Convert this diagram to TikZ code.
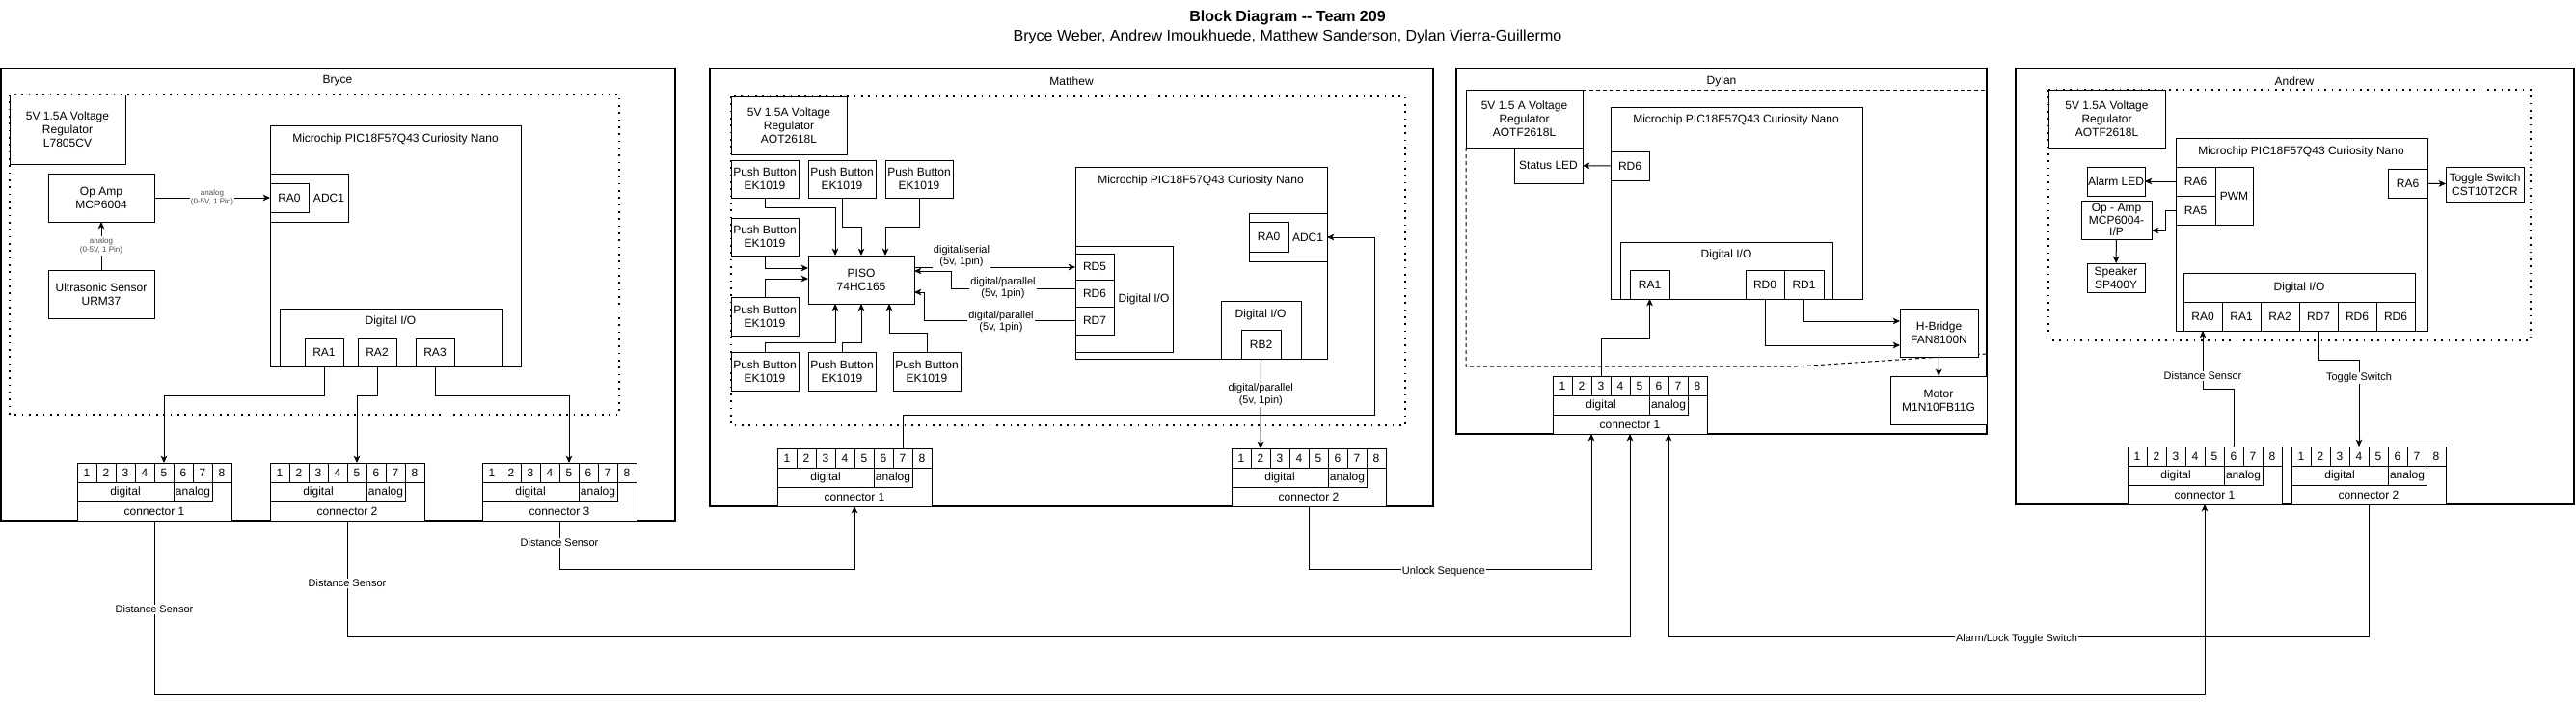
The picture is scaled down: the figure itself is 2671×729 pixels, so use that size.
\documentclass[tikz,border=0pt]{standalone}
\usepackage{fontspec}
\setmainfont{Liberation Sans}
\usetikzlibrary{arrows.meta}
\newcommand\ftw{\fontsize{9}{10.5}\selectfont}
\newcommand\fel{\fontsize{8.25}{9.2}\selectfont}
\newcommand\fsm{\fontsize{6}{7}\selectfont}
\newcommand\fti{\fontsize{12}{14}\selectfont}
\tikzset{
 box/.style={draw,line width=0.75pt,fill=white,inner sep=0pt,outer sep=0pt,align=center,font=\ftw},
 panel/.style={draw,line width=1pt},
 txt/.style={inner sep=0pt,align=center,font=\ftw},
 arr/.style={line width=0.75pt,-{Stealth[length=5.5pt,width=5pt,inset=1.5pt]}},
 elab/.style={fill=white,inner sep=1pt,align=center,font=\fel},
 slab/.style={fill=white,inner sep=1pt,align=center,font=\fsm,text=black!70},
 dotbox/.style={line width=1.3pt,dash pattern=on 1.3pt off 4.2pt},
 dashbox/.style={line width=0.75pt,dash pattern=on 3pt off 2.25pt},
}
\newcommand\mybox[7][]{%
 \pgfmathsetmacro\bw{(#5-#3)*0.75}%
 \pgfmathsetmacro\bh{(#6-#4)*0.75}%
 \node[box,minimum width=\bw pt,minimum height=\bh pt,#1] (#2) at ({(#3+#5)/2},{(#4+#6)/2}) {#7};}
\newcommand\myconn[4]{%
 \node[box,minimum width=120pt,minimum height=45pt,anchor=north west] (#1) at (#2,#3) {};
 \foreach \i in {1,...,8} {\node[box,minimum width=15pt,minimum height=15pt,anchor=north west] (#1-\i) at ({#2+20*(\i-1)},#3) {\i};}
 \node[box,minimum width=75pt,minimum height=15pt,anchor=north west] (#1-d) at (#2,{#3+20}) {digital};
 \node[box,minimum width=30pt,minimum height=15pt,anchor=north west] (#1-a) at ({#2+100},{#3+20}) {analog};
 \node[txt] (#1-l) at ({#2+80},{#3+50}) {#4};}
\begin{document}
\begin{tikzpicture}[x=0.75pt,y=-0.75pt]
\useasboundingbox (0,0) rectangle (2671,729);
\fill[white] (0,0) rectangle (2671,729);
% titles
\node[font=\bfseries\fti] (title) at (1335,18) {Block Diagram {-}{-} Team 209};
\node[font=\fti] (subtitle) at (1335,38) {Bryce Weber, Andrew Imoukhuede, Matthew Sanderson, Dylan Vierra-Guillermo};
% panels
\draw[panel] (1,71) rectangle (700,540);
\node[txt] (tbryce) at (350,84) {Bryce};
\draw[panel] (736,71) rectangle (1486,525);
\node[txt] (tmatt) at (1111,84) {Matthew};
\draw[panel] (1510,71) rectangle (2060,450);
\node[txt] (tdylan) at (1785,84) {Dylan};
\draw[panel] (2090,71) rectangle (2669,523);
\node[txt] (tandrew) at (2379,84) {Andrew};

% ================= Bryce
\draw[dotbox] (10,98) rectangle (642,430);
\mybox{breg}{10}{98}{130}{170}{5V 1.5A Voltage\\Regulator\\L7805CV}
\mybox{bopamp}{50}{180}{160}{230}{Op Amp\\MCP6004}
\mybox{bus}{50}{280}{160}{330}{Ultrasonic Sensor\\URM37}
\mybox{bmcu}{280}{130}{540}{380}{}
\node[txt] (bmcut) at (410,144) {Microchip PIC18F57Q43 Curiosity Nano};
\mybox{badc}{280}{180}{361}{230}{}
\mybox{bra0}{280}{190}{320}{220}{RA0}
\node[txt] (badct) at (341,205) {ADC1};
\mybox{bdio}{290}{320}{521}{380}{}
\node[txt] (bdiot) at (405,333) {Digital I/O};
\mybox{bra1}{316}{351}{356}{380}{RA1}
\mybox{bra2}{371}{351}{411}{380}{RA2}
\mybox{bra3}{431}{351}{471}{380}{RA3}
\myconn{bc1}{80}{480}{connector 1}
\myconn{bc2}{280}{480}{connector 2}
\myconn{bc3}{500}{480}{connector 3}
\draw[arr] (bopamp) -- (badc) node[midway,slab] (lb1) {analog\\(0-5V, 1 Pin)};
\draw[arr] (bus) -- (bopamp) node[midway,slab] (lb2) {analog\\(0-5V, 1 Pin)};
\draw[arr] (bra1.south) -- ++(0,30) -| (bc1-5.north);
\draw[arr] (bra2.south) -- ++(0,30) -| (bc2-5.north);
\draw[arr] (bra3.south) -- ++(0,30) -| (bc3-5.north);

% ================= Matthew
\draw[dotbox] (758,100) rectangle (1457,441);
\mybox{mreg}{758}{100}{878}{160}{5V 1.5A Voltage\\Regulator\\AOT2618L}
\mybox{mpb1}{758}{166}{828}{205}{Push Button\\EK1019}
\mybox{mpb2}{838}{166}{908}{205}{Push Button\\EK1019}
\mybox{mpb3}{918}{166}{988}{205}{Push Button\\EK1019}
\mybox{mpb4}{758}{226}{828}{265}{Push Button\\EK1019}
\mybox{mpb5}{758}{308}{828}{348}{Push Button\\EK1019}
\mybox{mpb6}{758}{365}{828}{405}{Push Button\\EK1019}
\mybox{mpb7}{838}{365}{908}{405}{Push Button\\EK1019}
\mybox{mpb8}{926}{365}{996}{405}{Push Button\\EK1019}
\mybox{mpiso}{838}{265}{948}{315}{PISO\\74HC165}
\mybox{mmcu}{1115}{173}{1376}{372}{}
\node[txt] (mmcut) at (1245,187) {Microchip PIC18F57Q43 Curiosity Nano};
\mybox{madc}{1295}{221}{1376}{271}{}
\mybox{mra0}{1295}{230}{1336}{261}{RA0}
\node[txt] (madct) at (1356,246) {ADC1};
\mybox{mdio1}{1115}{255}{1216}{365}{}
\node[txt] (mdio1t) at (1186,310) {Digital I/O};
\mybox{mrd5}{1115}{263}{1155}{290}{RD5}
\mybox{mrd6}{1115}{290}{1155}{318}{RD6}
\mybox{mrd7}{1115}{318}{1155}{347}{RD7}
\mybox{mdio2}{1266}{312}{1349}{372}{}
\node[txt] (mdio2t) at (1307,326) {Digital I/O};
\mybox{mrb2}{1287}{342}{1328}{372}{RB2}
\myconn{mc1}{806}{465}{connector 1}
\myconn{mc2}{1277}{465}{connector 2}
\draw[arr] (mpb1.south) -- ++(0,10) -| (mpiso.north -| 866,0);
\draw[arr] (mpb2.south) -- ++(0,30) -| (mpiso.north -| 893,0);
\draw[arr] (mpb3.south) -- ++(0,30) -| (mpiso.north -| 918,0);
\draw[arr] (mpb4.south) |- (mpiso.west |- 0,278);
\draw[arr] (mpb5.north) |- (mpiso.west |- 0,289);
\draw[arr] (mpb6.north) -- ++(0,-10) -| (mpiso.south -| 866,0);
\draw[arr] (mpb7.north) -- ++(0,-10) -| (mpiso.south -| 893,0);
\draw[arr] (mpb8.north) -- ++(0,-20) -| (mpiso.south -| 922,0);
\draw[arr] (mpiso.east |- 0,277) -- (mrd5.west |- 0,277);
\node[elab] (lm1) at (997,266) {digital/serial\\(5v, 1pin)};
\draw[arr] (mrd6.west |- 0,299) -- (986,299) |- (mpiso.east |- 0,281);
\node[elab] (lm2) at (1040,299) {digital/parallel\\(5v, 1pin)};
\draw[arr] (mrd7.west) -- (mrd7.west -| 958,0) |- (mpiso.east |- 0,303);
\node[elab] (lm3) at (1038,334) {digital/parallel\\(5v, 1pin)};
\draw[arr] (mrb2.south) -- (mc2-2.north) node[pos=0.4,elab] (lm4) {digital/parallel\\(5v, 1pin)};
\draw[arr] (mc1-7.north) |- (1425,430) |- (madc.east);

% ================= Dylan
\draw[dashbox] (1641,93) -- (2060,93);
\draw[dashbox] (1520,153) -- (1520,380) -- (1862,380) -- (2060,367);
\mybox{dreg}{1520}{93}{1641}{153}{5V 1.5 A Voltage\\Regulator\\AOTF2618L}
\mybox{dled}{1570}{153}{1641}{190}{Status LED}
\mybox{dmcu}{1670}{111}{1931}{310}{}
\node[txt] (dmcut) at (1800,124) {Microchip PIC18F57Q43 Curiosity Nano};
\mybox{drd6}{1670}{157}{1710}{187}{RD6}
\mybox{ddio}{1680}{251}{1900}{310}{}
\node[txt] (ddiot) at (1790,264) {Digital I/O};
\mybox{dra1}{1690}{280}{1731}{310}{RA1}
\mybox{drd0}{1810}{280}{1850}{310}{RD0}
\mybox{drd1}{1850}{280}{1891}{310}{RD1}
\mybox{dhb}{1970}{320}{2051}{370}{H-Bridge\\FAN8100N}
\mybox{dmot}{1960}{390}{2060}{440}{Motor\\M1N10FB11G}
\myconn{dc1}{1610}{390}{connector 1}
\draw[arr] (drd6) -- (dled);
\draw[arr] (drd1.south) |- (dhb.west |- 0,333);
\draw[arr] (drd0.south) |- (dhb.west |- 0,358);
\draw[arr] (dhb) -- (dmot);
\draw[arr] (dc1-3.north) -- ++(0,-39) -| (dra1.south);

% ================= Andrew
\draw[dotbox] (2124,93) rectangle (2624,353);
\mybox{areg}{2124}{93}{2245}{153}{5V 1.5A Voltage\\Regulator\\AOTF2618L}
\mybox{amcu}{2256}{143}{2517}{343}{}
\node[txt] (amcut) at (2386,157) {Microchip PIC18F57Q43 Curiosity Nano};
\mybox{ara6}{2256}{173}{2297}{203}{RA6}
\mybox{ara5}{2256}{203}{2297}{233}{RA5}
\mybox{apwm}{2297}{173}{2336}{233}{PWM}
\mybox{aled}{2164}{173}{2224}{203}{Alarm LED}
\mybox[font=\fontsize{9}{9.6}\selectfont]{aopamp}{2158}{208}{2231}{248}{Op - Amp\\MCP6004-\\I/P}
\mybox{aspk}{2164}{273}{2224}{303}{Speaker\\SP400Y}
\mybox{ara6r}{2476}{175}{2517}{205}{RA6}
\mybox{atog}{2536}{173}{2617}{209}{Toggle Switch\\CST10T2CR}
\mybox{adio}{2264}{283}{2504}{343}{}
\node[txt] (adiot) at (2384,298) {Digital I/O};
\mybox{apin1}{2264}{313}{2304}{343}{RA0}
\mybox{apin2}{2304}{313}{2344}{343}{RA1}
\mybox{apin3}{2344}{313}{2384}{343}{RA2}
\mybox{apin4}{2384}{313}{2424}{343}{RD7}
\mybox{apin5}{2424}{313}{2464}{343}{RD6}
\mybox{apin6}{2464}{313}{2504}{343}{RD6}
\myconn{ac1}{2206}{463}{connector 1}
\myconn{ac2}{2376}{463}{connector 2}
\draw[arr] (ara6) -- (aled);
\draw[arr] (ara5.west) -- ++(-11,0) |- (aopamp.east |- 0,239);
\draw[arr] (aopamp) -- (aspk);
\draw[arr] (ara6r) -- (atog);
\draw[arr] (ac1-6.north) -- ++(0,-60) -| (apin1.south);
\node[elab] (la1) at (2284,390) {Distance Sensor};
\draw[arr] (apin4.south) -- ++(0,30) -| (ac2-4.north);
\node[elab] (la2) at (2446,392) {Toggle Switch};

% ================= inter-panel links
\draw[arr] (bc1.south) -- ++(0,180) -| (ac1.south);
\node[elab] (lx1) at (160,632) {Distance Sensor};
\draw[arr] (bc2.south) -- ++(0,120) -| (dc1.south);
\node[elab] (lx2) at (360,605) {Distance Sensor};
\draw[arr] (bc3.south) -- ++(0,50) -| (mc1.south);
\node[elab] (lx3) at (580,563) {Distance Sensor};
\draw[arr] (mc2.south) -- ++(0,65) -| (dc1.south -| 1650,0);
\node[elab] (lx4) at (1497,593) {Unlock Sequence};
\draw[arr] (ac2.south) -- ++(0,137) -| (dc1.south -| 1730,0);
\node[elab] (lx5) at (2091,663) {Alarm/Lock Toggle Switch};
\end{tikzpicture}
\end{document}
